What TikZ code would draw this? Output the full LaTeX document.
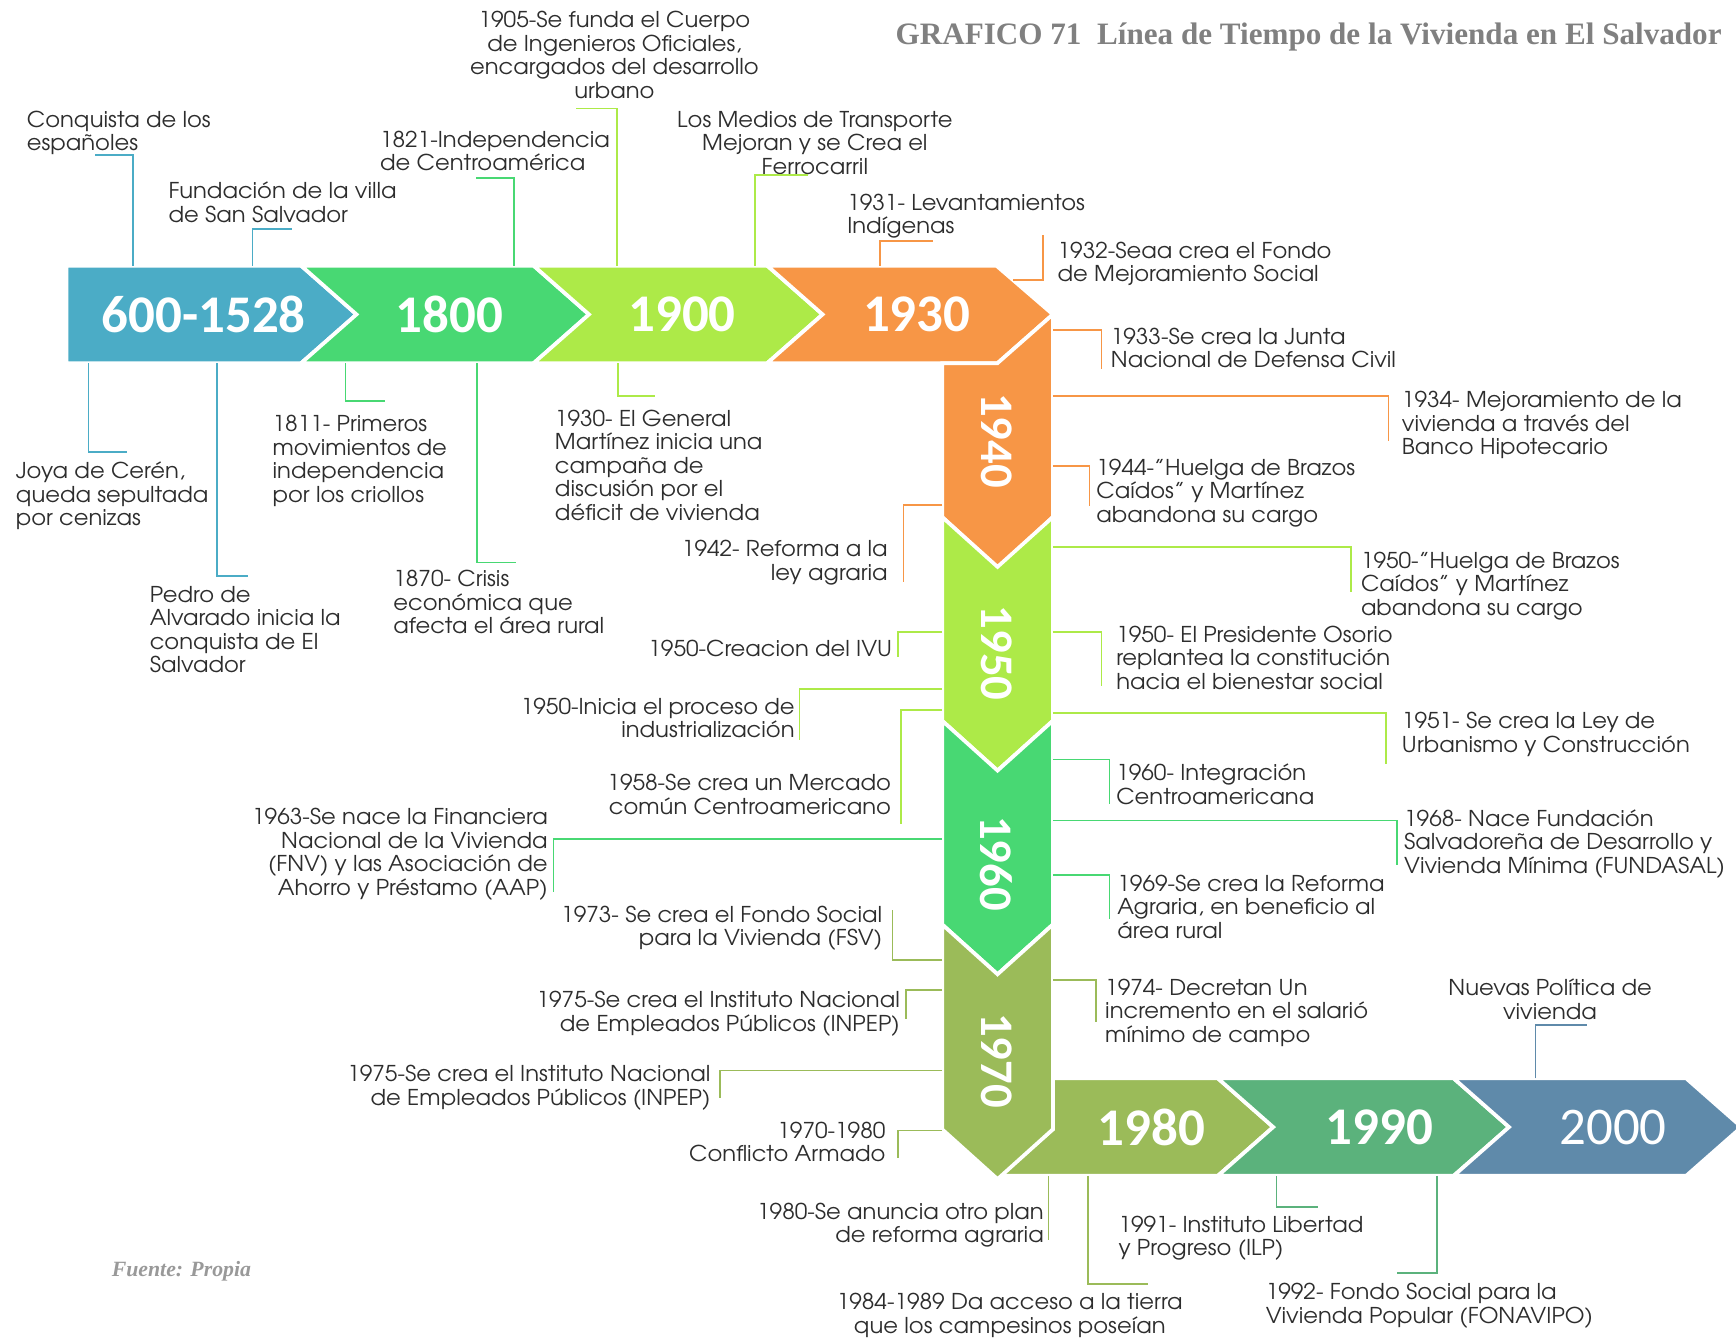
\documentclass[tikz,border=0pt]{standalone}
\usepackage{fontspec}
\setmainfont{TeX Gyre Adventor}[FakeStretch=1.04]
\newfontfamily\yearFont{Carlito}
\newfontfamily\titleFont{Liberation Serif}
\definecolor{blueSeg}{RGB}{75,172,198}
\definecolor{greenSeg}{RGB}{72,216,115}
\definecolor{limeSeg}{RGB}{173,234,72}
\definecolor{orangeSeg}{RGB}{247,150,70}
\definecolor{oliveSeg}{RGB}{155,187,89}
\definecolor{seaSeg}{RGB}{91,178,124}
\definecolor{steelSeg}{RGB}{95,138,170}
\definecolor{textGray}{RGB}{45,45,45}
\tikzstyle{timeline} = [x = .025cm, y = -.025cm]
\tikzstyle{segmentStyle} = [draw=white, line width=2.4pt, line join=miter]
\tikzstyle{yearText} = [text=white, font=\yearFont\bfseries\fontsize{34}{34}\selectfont]
\tikzstyle{yearTextVertical} = [text=white, rotate=-90, font=\yearFont\bfseries\fontsize{30}{30}\selectfont]
\tikzstyle{eventText} = [text=textGray, inner sep=0, font=\fontsize{14}{15.1}\selectfont]
\tikzstyle{eventLine} = [line width=1.1pt]
\newcommand{\hSegment}[4]{\filldraw [segmentStyle, fill=#1] (#2,#4) -- (#3,#4) -- (#3 + 50,#4 + 44) -- (#3,#4 + 88) -- (#2,#4 + 88) -- (#2 + 50,#4 + 44) -- cycle;}
\newcommand{\vSegment}[3]{\filldraw [segmentStyle, fill=#1] (851,#2) -- (901,#2 + 45) -- (951,#2) -- (951,#3) -- (901,#3 + 45) -- (851,#3) -- cycle;}
\newcommand{\eventLeft}[4]{\node [eventText, align=left, anchor=north west] (#1) at (#2,#3 - 7) {#4};}
\newcommand{\eventRight}[4]{\node [eventText, align=right, anchor=north east] (#1) at (#2,#3 - 7) {#4};}
\newcommand{\eventCenter}[4]{\node [eventText, align=center, anchor=north] (#1) at (#2,#3 - 7) {#4};}

\begin{document}
\begin{tikzpicture}[timeline]
  \useasboundingbox (0,0) rectangle (1568,1208);

  % top band
  \filldraw [segmentStyle, fill=blueSeg] (60,240) -- (272,240) -- (322,284) -- (272,328) -- (60,328) -- cycle;
  \hSegment{greenSeg}{272}{482}{240}
  \hSegment{limeSeg}{482}{693}{240}
  \filldraw [segmentStyle, fill=orangeSeg] (693,240) -- (900,240) -- (951,284) -- (901,328) -- (693,328) -- (743,284) -- cycle;

  % column going down
  \filldraw [segmentStyle, fill=orangeSeg] (851,328) -- (901,328) -- (951,284) -- (951,467) -- (901,513) -- (851,467) -- cycle;
  \vSegment{limeSeg}{467}{651}
  \vSegment{greenSeg}{651}{835}

  % bottom band
  \filldraw [segmentStyle, fill=oliveSeg] (951,974) -- (1100,974) -- (1150,1018) -- (1100,1062) -- (903,1062) -- (951,1020) -- cycle;
  \vSegment{oliveSeg}{835}{1020}
  \hSegment{seaSeg}{1100}{1313}{974}
  \hSegment{steelSeg}{1313}{1523}{974}

  \node [yearText] (y600) at (184,284) {600-1528};
  \node [yearText] (y1800) at (406,284) {1800};
  \node [yearText] (y1900) at (616,284) {1900};
  \node [yearText] (y1930) at (828,284) {1930};
  \node [yearTextVertical] (y1940) at (900,398) {1940};
  \node [yearTextVertical] (y1950) at (900,590) {1950};
  \node [yearTextVertical] (y1960) at (900,780) {1960};
  \node [yearTextVertical] (y1970) at (900,958) {1970};
  \node [yearText] (y1980) at (1040,1018) {1980};
  \node [yearText] (y1990) at (1246,1018) {1990};
  \node [yearText, font=\yearFont\fontsize{34}{34}\selectfont] (y2000) at (1457,1018) {2000};

  % events above the top band
  \eventLeft{conquista}{24}{107}{Conquista de los\\españoles}
  \eventLeft{fundacion}{152}{171}{Fundación de la villa\\de San Salvador}
  \eventLeft{indep1821}{343}{125}{1821-Independencia\\de Centroamérica}
  \eventCenter{cuerpo1905}{555}{17}{1905-Se funda el Cuerpo\\de Ingenieros Oficiales,\\encargados del desarrollo\\urbano}
  \eventCenter{transporte}{736}{107}{Los Medios de Transporte\\Mejoran y se Crea el\\Ferrocarril}
  \eventLeft{levant1931}{765}{182}{1931- Levantamientos\\Indígenas}
  \eventLeft{fondo1932}{955}{225}{1932-Seaa crea el Fondo\\de Mejoramiento Social}

  \draw [eventLine, blueSeg] (120,240) |- (86,140);
  \draw [eventLine, blueSeg] (228,240) |- (264,207);
  \draw [eventLine, greenSeg] (464,240) |- (430,161);
  \draw [eventLine, limeSeg] (557,240) |- (520,98);
  \draw [eventLine, limeSeg] (682,240) |- (730,158);
  \draw [eventLine, orangeSeg] (795,240) |- (843,218);
  \draw [eventLine, orangeSeg] (915,253) -| (942,212);

  % events below the top band
  \eventLeft{joya}{14}{424}{Joya de Cerén,\\queda sepultada\\por cenizas}
  \eventLeft{pedro}{135}{536}{Pedro de\\Alvarado inicia la\\conquista de El\\Salvador}
  \eventLeft{primeros1811}{246}{382}{1811- Primeros\\movimientos de\\independencia\\por los criollos}
  \eventLeft{crisis1870}{355}{522}{1870- Crisis\\económica que\\afecta el área rural}
  \eventLeft{general1930}{501}{377}{1930- El General\\Martínez inicia una\\campaña de\\discusión por el\\déficit de vivienda}

  \draw [eventLine, blueSeg] (80,328) |- (115,408);
  \draw [eventLine, blueSeg] (196,328) |- (224,520);
  \draw [eventLine, greenSeg] (312,328) |- (348,362);
  \draw [eventLine, greenSeg] (431,328) |- (466,508);
  \draw [eventLine, limeSeg] (558,328) |- (592,358);

  % events right of the column
  \eventLeft{junta1933}{1003}{303}{1933-Se crea la Junta\\Nacional de Defensa Civil}
  \eventLeft{banco1934}{1266}{360}{1934- Mejoramiento de la\\vivienda a través del\\Banco Hipotecario}
  \eventLeft{huelga1944}{990}{421}{1944-”Huelga de Brazos\\Caídos” y Martínez\\abandona su cargo}
  \eventLeft{huelga1950}{1229}{505}{1950-”Huelga de Brazos\\Caídos” y Martínez\\abandona su cargo}
  \eventLeft{osorio1950}{1008}{572}{1950- El Presidente Osorio\\replantea la constitución\\hacia el bienestar social}
  \eventLeft{urbanismo1951}{1266}{650}{1951- Se crea la Ley de\\Urbanismo y Construcción}
  \eventLeft{integracion1960}{1008}{697}{1960- Integración\\Centroamericana}
  \eventLeft{fundasal1968}{1268}{738}{1968- Nace Fundación\\Salvadoreña de Desarrollo y\\Vivienda Mínima (FUNDASAL)}
  \eventLeft{reforma1969}{1009}{797}{1969-Se crea la Reforma\\Agraria, en beneficio al\\área rural}
  \eventLeft{salario1974}{998}{891}{1974- Decretan Un\\incremento en el salarió\\mínimo de campo}

  \draw [eventLine, orangeSeg] (951,298) -| (995,333);
  \draw [eventLine, orangeSeg] (951,358) -| (1254,398);
  \draw [eventLine, orangeSeg] (951,421) -| (984,457);
  \draw [eventLine, limeSeg] (951,494) -| (1220,535);
  \draw [eventLine, limeSeg] (951,571) -| (995,620);
  \draw [eventLine, limeSeg] (951,644) -| (1252,690);
  \draw [eventLine, greenSeg] (951,686) -| (1002,726);
  \draw [eventLine, greenSeg] (951,741) -| (1262,781);
  \draw [eventLine, greenSeg] (951,790) -| (1002,830);
  \draw [eventLine, oliveSeg] (951,885) -| (990,923);

  % events left of the column
  \eventRight{reforma1942}{802}{495}{1942- Reforma a la\\ley agraria}
  \eventRight{ivu1950}{806}{585}{1950-Creacion del IVU}
  \eventRight{industria1950}{718}{637}{1950-Inicia el proceso de\\industrialización}
  \eventRight{mercado1958}{805}{706}{1958-Se crea un Mercado\\común Centroamericano}
  \eventRight{fnv1963}{495}{737}{1963-Se nace la Financiera\\Nacional de la Vivienda\\(FNV) y las Asociación de\\Ahorro y Préstamo (AAP)}
  \eventRight{fsv1973}{797}{825}{1973- Se crea el Fondo Social\\para la Vivienda (FSV)}
  \eventRight{inpepA}{813}{902}{1975-Se crea el Instituto Nacional\\de Empleados Públicos (INPEP)}
  \eventRight{inpepB}{642}{969}{1975-Se crea el Instituto Nacional\\de Empleados Públicos (INPEP)}
  \eventRight{conflicto}{800}{1020}{1970-1980\\Conflicto Armado}

  \draw [eventLine, orangeSeg] (851,456) -| (816,526);
  \draw [eventLine, limeSeg] (851,571) -| (811,593);
  \draw [eventLine, limeSeg] (851,622) -| (722,668);
  \draw [eventLine, limeSeg] (851,641) -| (814,744);
  \draw [eventLine, greenSeg] (851,758) -| (500,806);
  \draw [eventLine, oliveSeg] (851,867) -| (806,822);
  \draw [eventLine, oliveSeg] (851,894) -| (818,920);
  \draw [eventLine, oliveSeg] (851,967) -| (650,992);
  \draw [eventLine, oliveSeg] (851,1021) -| (811,1046);

  % events round the bottom band
  \eventRight{plan1980}{943}{1093}{1980-Se anuncia otro plan\\de reforma agraria}
  \eventCenter{tierra1984}{912}{1175}{1984-1989 Da acceso a la tierra\\que los campesinos poseían}
  \eventLeft{ilp1991}{1010}{1105}{1991- Instituto Libertad\\y Progreso (ILP)}
  \eventLeft{fonavipo1992}{1143}{1166}{1992- Fondo Social para la\\Vivienda Popular (FONAVIPO)}
  \eventCenter{nuevas}{1400}{891}{Nuevas Política de\\vivienda}

  \draw [eventLine, oliveSeg] (947,1062) -- (947,1120);
  \draw [eventLine, oliveSeg] (983,1062) |- (1037,1160);
  \draw [eventLine, seaSeg] (1153,1062) |- (1190,1090);
  \draw [eventLine, seaSeg] (1298,1062) |- (1262,1150);
  \draw [eventLine, steelSeg] (1387,974) |- (1433,926);

  \node [anchor=east, text=black!50, font=\titleFont\bfseries\fontsize{20}{24}\selectfont] (titulo) at (1560,33) {GRAFICO 71\ \ Línea de Tiempo de la Vivienda en El Salvador};
  \node [anchor=west, text=black!40, font=\titleFont\bfseries\itshape\fontsize{14}{16}\selectfont] (fuente) at (96,1148) {Fuente: Propia};
\end{tikzpicture}
\end{document}
